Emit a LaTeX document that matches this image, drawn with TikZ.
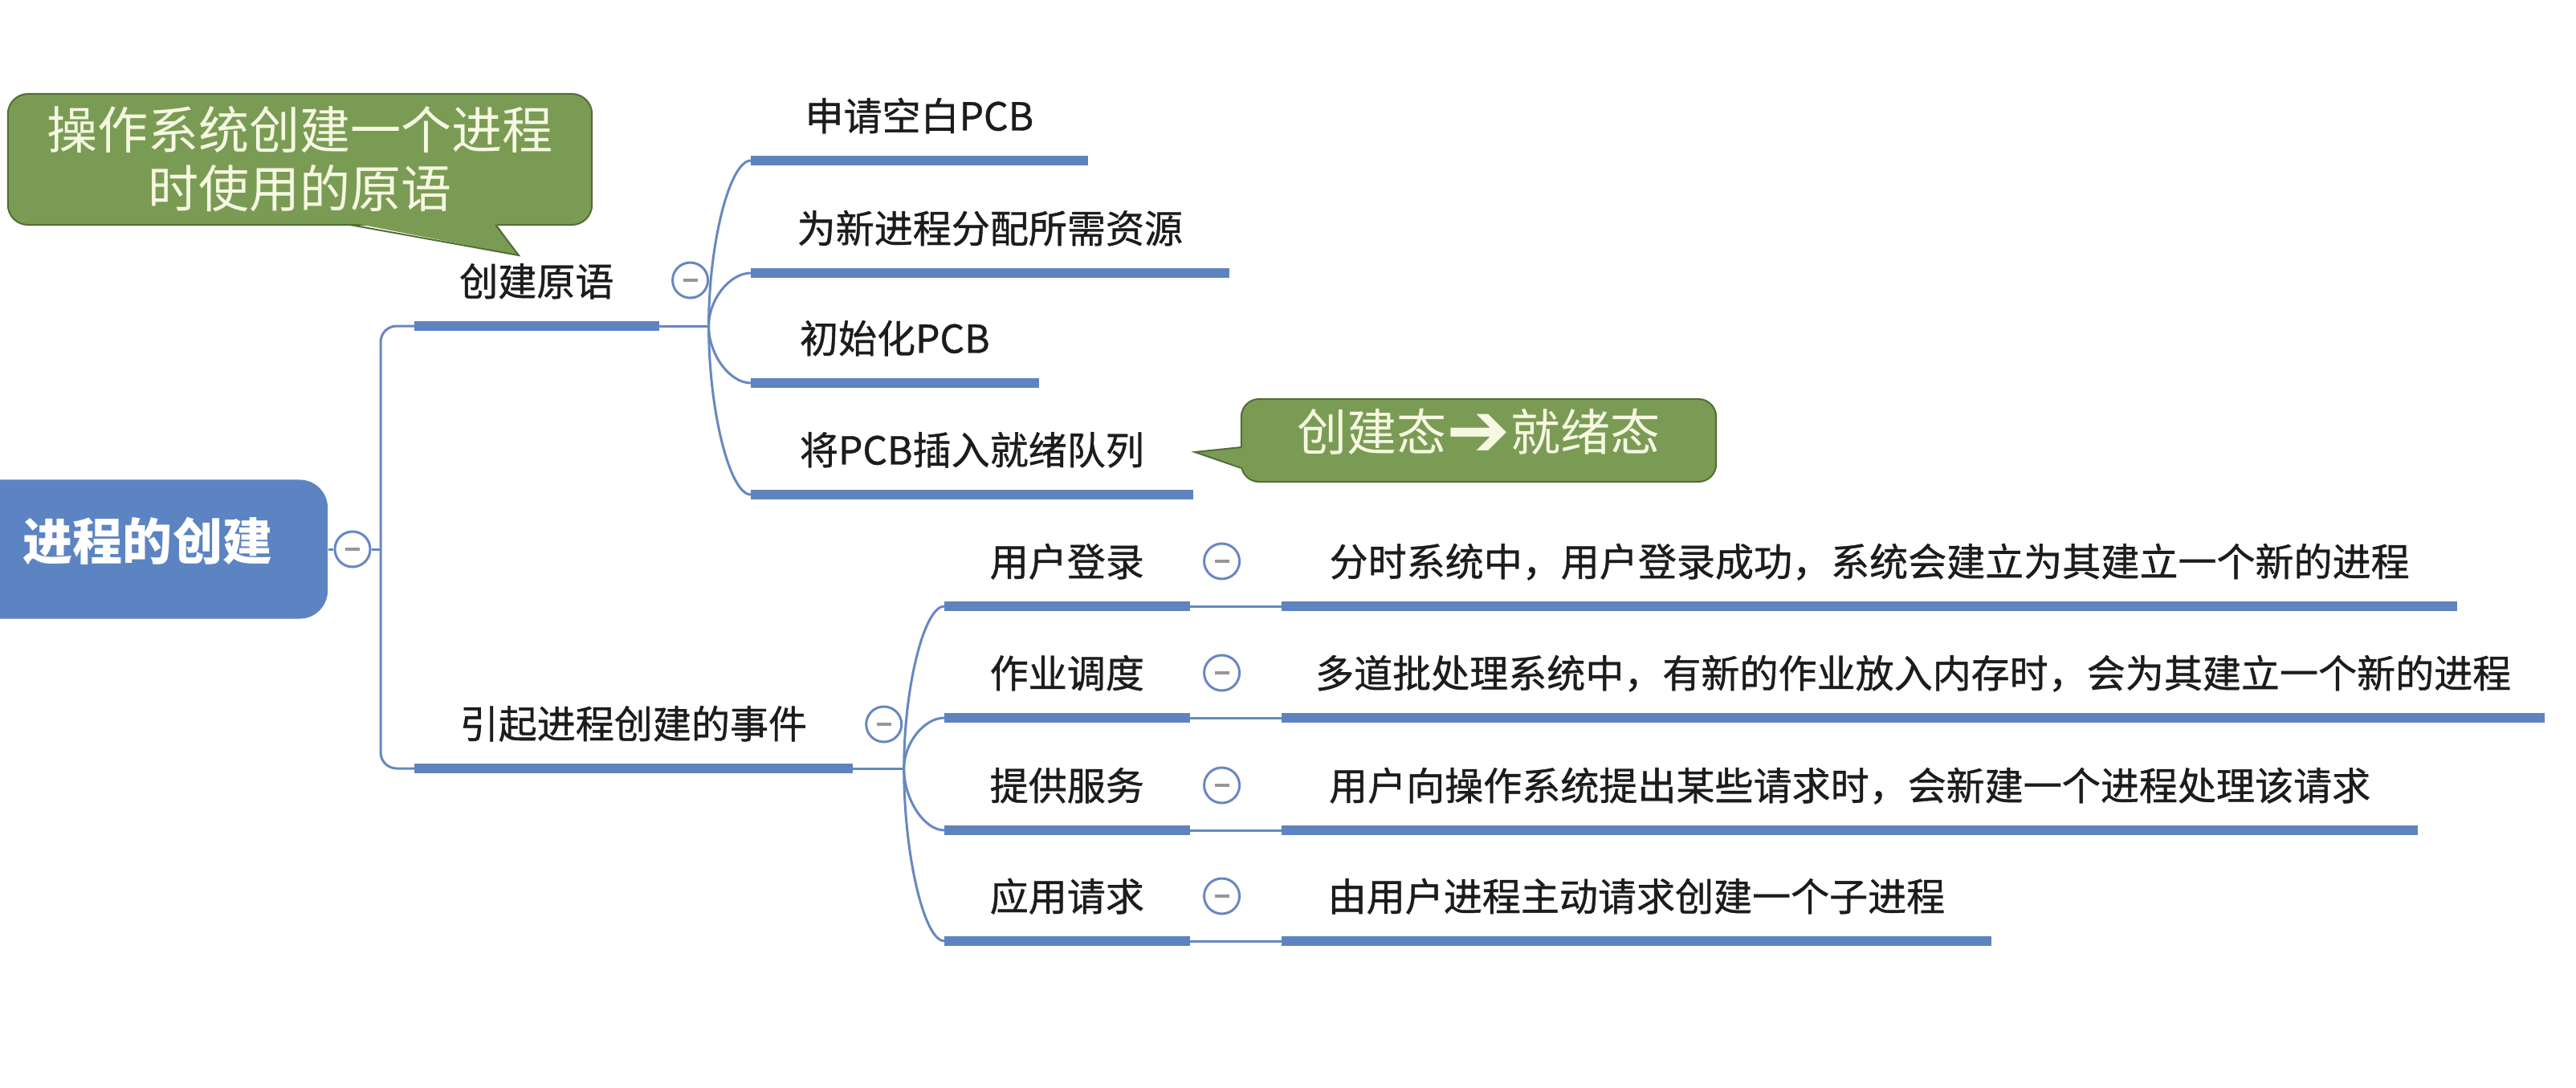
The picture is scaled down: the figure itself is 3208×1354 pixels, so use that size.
\documentclass[tikz,border=0pt]{standalone}
\usepackage{fontspec}
\setmainfont{Noto Sans CJK SC}
\newfontfamily\lblfont{Noto Sans CJK SC}[FakeBold=0.8]
\newfontfamily\arrowfont{DejaVu Sans}
\usetikzlibrary{calc}
\definecolor{mblue}{RGB}{93,132,193}
\definecolor{lblue}{RGB}{102,136,194}
\definecolor{rootblue}{RGB}{92,132,195}
\definecolor{cgreen}{RGB}{122,155,84}
\definecolor{cgreenD}{RGB}{84,108,56}
\definecolor{cream}{RGB}{246,248,226}
\definecolor{txt}{RGB}{28,28,28}
\definecolor{minusgrey}{RGB}{150,150,156}
\tikzset{
  lbl/.style={anchor=south west, inner xsep=0pt, inner ysep=0pt, minimum height=1cm,
    text height=0.8em, text depth=0.05em, text=txt,
    font=\lblfont\fontsize{13.66pt}{16pt}\selectfont},
  uline/.style={draw=mblue, line width=0.115cm, line cap=butt},
  thinln/.style={draw=lblue, line width=0.03cm},
  tog/.style={circle, draw=lblue, line width=0.03cm, fill=white, minimum size=0.44cm, inner sep=0pt,
    path picture={\draw[minusgrey, line width=0.035cm]
      ($(path picture bounding box.center)+(-0.09cm,0cm)$) -- ($(path picture bounding box.center)+(0.09cm,0cm)$);}},
  rootbox/.style={rectangle, rounded corners=0.35cm, fill=rootblue, text=white,
    minimum width=4.48cm, minimum height=1.73cm, inner sep=0pt,
    text height=0.8em, text depth=0.05em,
    font=\bfseries\fontsize{17.64pt}{20pt}\selectfont},
  callout/.style={rectangle, fill=cgreen, draw=cgreenD, line width=0.02cm, text=cream, inner sep=0pt, align=center},
  brc/.style={to path={.. controls ($(\tikztostart)!0.5!(\tikztostart|-\tikztotarget)$) and ($(\tikztostart|-\tikztotarget)!0.5!(\tikztotarget)$) .. (\tikztotarget)}}
}
\begin{document}
\begin{tikzpicture}[x=0.01cm, y=-0.01cm]
\fill[white] (0,0) rectangle (3208,1354);
\useasboundingbox (0,0) rectangle (3208,1354);

% root
\node[rootbox] (root) at (184,684) {进程的创建};
\node[tog] (rc) at (439,684) {};
\coordinate (tr) at (474,684);

% level 1
\node[lbl, minimum width=3.03cm] (l1) at (516,406) {创建原语};
\node[lbl, minimum width=5.44cm] (l2) at (516,957) {引起进程创建的事件};

% creation primitive steps
\node[lbl, minimum width=4.18cm] (k1) at (935,200) {申请空白PCB};
\node[lbl, minimum width=5.94cm] (k2) at (935,340) {为新进程分配所需资源};
\node[lbl, minimum width=3.57cm] (k3) at (935,477) {初始化PCB};
\node[lbl, minimum width=5.49cm] (k4) at (935,616) {将PCB插入就绪队列};

% events
\node[lbl, minimum width=3.04cm] (e1) at (1176,755) {用户登录};
\node[lbl, minimum width=3.04cm] (e2) at (1176,894) {作业调度};
\node[lbl, minimum width=3.04cm] (e3) at (1176,1034) {提供服务};
\node[lbl, minimum width=3.04cm] (e4) at (1176,1172) {应用请求};

% descriptions
\node[lbl, minimum width=14.62cm] (d1) at (1596,755) {分时系统中，用户登录成功，系统会建立为其建立一个新的进程};
\node[lbl, minimum width=15.71cm] (d2) at (1596,894) {多道批处理系统中，有新的作业放入内存时，会为其建立一个新的进程};
\node[lbl, minimum width=14.13cm] (d3) at (1596,1034) {用户向操作系统提出某些请求时，会新建一个进程处理该请求};
\node[lbl, minimum width=8.82cm] (d4) at (1596,1172) {由用户进程主动请求创建一个子进程};

% junctions
\coordinate (j1) at ($(l1.south east)+(62,0)$);
\coordinate (j2) at ($(l2.south east)+(64,0)$);

% connectors
\draw[thinln] (root.east) -- (rc);
\draw[thinln] (rc) -- (tr);
\draw[thinln, rounded corners=0.2cm] (tr) |- (l1.south west);
\draw[thinln, rounded corners=0.2cm] (tr) |- (l2.south west);
\draw[thinln] (l1.south east) -- (j1);
\draw[thinln] (l2.south east) -- (j2);
\foreach \k in {k1,k2,k3,k4} { \draw[thinln] (j1) to[brc] (\k.south west); }
\foreach \k in {e1,e2,e3,e4} { \draw[thinln] (j2) to[brc] (\k.south west); }
\foreach \i in {1,2,3,4} { \draw[thinln] (e\i.south east) -- (d\i.south west); }

% underlines
\foreach \n in {l1,l2,k1,k2,k3,k4,e1,e2,e3,e4,d1,d2,d3,d4} {
  \draw[uline] (\n.south west) -- (\n.south east);
}

% collapse toggles
\node[tog] (c1) at ($(l1.south east)+(39,-57)$) {};
\node[tog] (c2) at ($(l2.south east)+(39,-55)$) {};
\foreach \i in {1,2,3,4} { \node[tog] (t\i) at ($(e\i.south east)+(40,-56)$) {}; }

% callout 1
\node[callout, rounded corners=0.25cm, minimum width=7.27cm, minimum height=1.63cm,
  font=\fontsize{17.93pt}{20.77pt}\selectfont] (note1) at (373.5,198.5)
  {操作系统创建一个进程\\时使用的原语};
\coordinate (n1a) at (436,280);
\coordinate (n1b) at (617,280);
\coordinate (n1tip) at (646,318);
\fill[cgreen] ($(n1a)+(0,-3)$) -- (n1tip) -- ($(n1b)+(0,-3)$) -- cycle;
\draw[cgreenD, line width=0.02cm, line join=miter] (n1a) -- (n1tip) -- (n1b);

% callout 2
\node[callout, rounded corners=0.22cm, minimum width=5.91cm, minimum height=1.03cm,
  text height=0.8em, text depth=0.05em,
  font=\fontsize{17.64pt}{20pt}\selectfont] (note2) at (1841.5,548.5) {创建态{\arrowfont\fontsize{27pt}{27pt}\selectfont\raisebox{-0.07em}{➔}}就绪态};
\coordinate (n2a) at (1546,557);
\coordinate (n2b) at (1546,583);
\coordinate (n2tip) at (1488,563);
\fill[cgreen] ($(n2a)+(3,0)$) -- (n2tip) -- ($(n2b)+(3,0)$) -- cycle;
\draw[cgreenD, line width=0.02cm, line join=miter] (n2a) -- (n2tip) -- (n2b);
\end{tikzpicture}
\end{document}
